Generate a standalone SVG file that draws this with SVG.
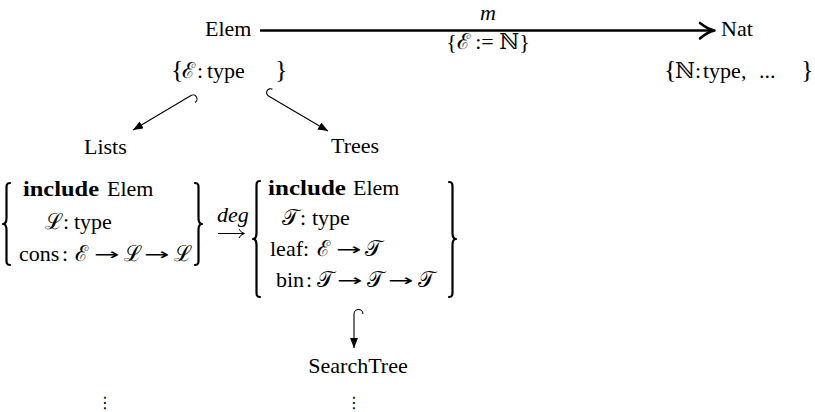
<svg xmlns="http://www.w3.org/2000/svg" width="815" height="412" viewBox="0 0 815 412">
<defs>
<style>
.t{font-family:"Liberation Serif","DejaVu Serif",serif;font-size:22px;fill:#000}
.i{font-style:italic}
.b{font-weight:bold}
.big{font-size:26px}
.ar{font-family:"DejaVu Sans",sans-serif;font-size:16px;fill:#000}
.br{fill:none;stroke:#000;stroke-width:2.2;stroke-linecap:round;stroke-linejoin:round}
.c{fill:none;stroke:#000;stroke-width:1.1}
.dots{font-family:"DejaVu Sans",sans-serif;font-size:16px;fill:#000}
</style>
<marker id="ah" markerUnits="userSpaceOnUse" markerWidth="11" markerHeight="9" refX="10" refY="4" orient="auto" viewBox="0 0 11 9">
<path d="M0,0 L10,4 L0,8 z" fill="#000"/>
</marker>
</defs>
<rect width="815" height="412" fill="#fff"/>

<g id="connectors">
<line x1="260" y1="30.5" x2="713" y2="30.5" stroke="#000" stroke-width="2.5"/>
<path d="M700,23 Q707.5,29 714.5,30.5 Q707.5,32 700,38.5" fill="none" stroke="#000" stroke-width="2.6" stroke-linecap="round" stroke-linejoin="round"/>
<text class="t i" x="488" y="20" text-anchor="middle">m</text>
<text class="t" x="488" y="49" text-anchor="middle">{ℰ := ℕ}</text>
<path class="c" d="M195,102.5 A4,4 0 0 0 191,95.5 L133,130" marker-end="url(#ah)"/>
<path class="c" d="M272.5,89.3 A3.9,3.9 0 0 0 268.5,96 L328,131" marker-end="url(#ah)"/>
<path class="c" d="M363,314 A4.5,4.5 0 0 0 354,314 L354,348" marker-end="url(#ah)"/>
<text class="t i" x="217" y="222">deg</text>
<line x1="218" y1="233.5" x2="244" y2="233.5" stroke="#000" stroke-width="1"/>
<path d="M239,229 Q240.5,232.5 244.5,233.5 Q240.5,234.5 239,238" fill="none" stroke="#000" stroke-width="1"/>
</g>

<g id="elem">
<text class="t" x="205" y="36">Elem</text>
<text class="t big" x="171" y="78">{</text>
<text class="t" y="78"><tspan x="182">ℰ</tspan><tspan x="197">:</tspan><tspan x="207">type</tspan></text>
<text class="t big" x="275" y="78">}</text>
</g>

<g id="nat">
<text class="t" x="721" y="36">Nat</text>
<text class="t big" x="664" y="78">{</text>
<text class="t" y="78"><tspan x="675">ℕ</tspan><tspan x="695">:</tspan><tspan x="703">type,</tspan><tspan x="759">...</tspan></text>
<text class="t big" x="801" y="78">}</text>
</g>

<g id="lists">
<text class="t" x="84" y="154">Lists</text>
<path class="br" d="M10,183 C6,183 6.5,186 6.5,190 L6.5,218 C6.5,222 5,224 3,224 C5,224 6.5,226 6.5,230 L6.5,258 C6.5,262 6,265 10,265"/>
<text class="t b" x="23" y="196" textLength="76" lengthAdjust="spacingAndGlyphs">include</text>
<text class="t" x="107" y="196">Elem</text>
<text class="t" y="229"><tspan x="45">ℒ</tspan><tspan x="63">:</tspan><tspan x="74">type</tspan></text>
<text class="t" y="261"><tspan x="19">cons</tspan><tspan x="62">:</tspan><tspan x="75">ℰ</tspan><tspan x="124">ℒ</tspan><tspan x="174">ℒ</tspan></text>
<text class="ar" transform="translate(94,260) scale(1.9,1)">→</text>
<text class="ar" transform="translate(144,260) scale(1.9,1)">→</text>
<path class="br" d="M195,183 C199,183 198.5,186 198.5,190 L198.5,218 C198.5,222 200,224 202,224 C200,224 198.5,226 198.5,230 L198.5,258 C198.5,262 199,265 195,265"/>
</g>

<g id="trees">
<text class="t" x="331" y="153">Trees</text>
<path class="br" d="M260,181 C256,181 256.5,184 256.5,189 L256.5,233 C256.5,237 255,239 253,239 C255,239 256.5,241 256.5,245 L256.5,289 C256.5,294 256,297 260,297"/>
<text class="t b" x="268" y="195" textLength="78" lengthAdjust="spacingAndGlyphs">include</text>
<text class="t" x="353" y="195">Elem</text>
<text class="t" y="225"><tspan x="282">𝒯</tspan><tspan x="300">:</tspan><tspan x="312">type</tspan></text>
<text class="t" y="256"><tspan x="270">leaf</tspan><tspan x="303">:</tspan><tspan x="317">ℰ</tspan><tspan x="365">𝒯</tspan></text>
<text class="ar" transform="translate(336,255) scale(1.9,1)">→</text>
<text class="t" y="287"><tspan x="276">bin</tspan><tspan x="306">:</tspan><tspan x="317">𝒯</tspan><tspan x="367">𝒯</tspan><tspan x="418">𝒯</tspan></text>
<text class="ar" transform="translate(337,286) scale(1.9,1)">→</text>
<text class="ar" transform="translate(388,286) scale(1.9,1)">→</text>
<path class="br" d="M449,182 C453,182 452.5,185 452.5,190 L452.5,233 C452.5,237 454,239 456,239 C454,239 452.5,241 452.5,245 L452.5,289 C452.5,294 453,297 449,297"/>
</g>

<g id="searchtree">
<text class="t" x="358" y="373" text-anchor="middle">SearchTree</text>
</g>

<g id="dots">
<text class="dots" x="105" y="408" text-anchor="middle">⋮</text>
<text class="dots" x="354" y="408" text-anchor="middle">⋮</text>
</g>
</svg>
